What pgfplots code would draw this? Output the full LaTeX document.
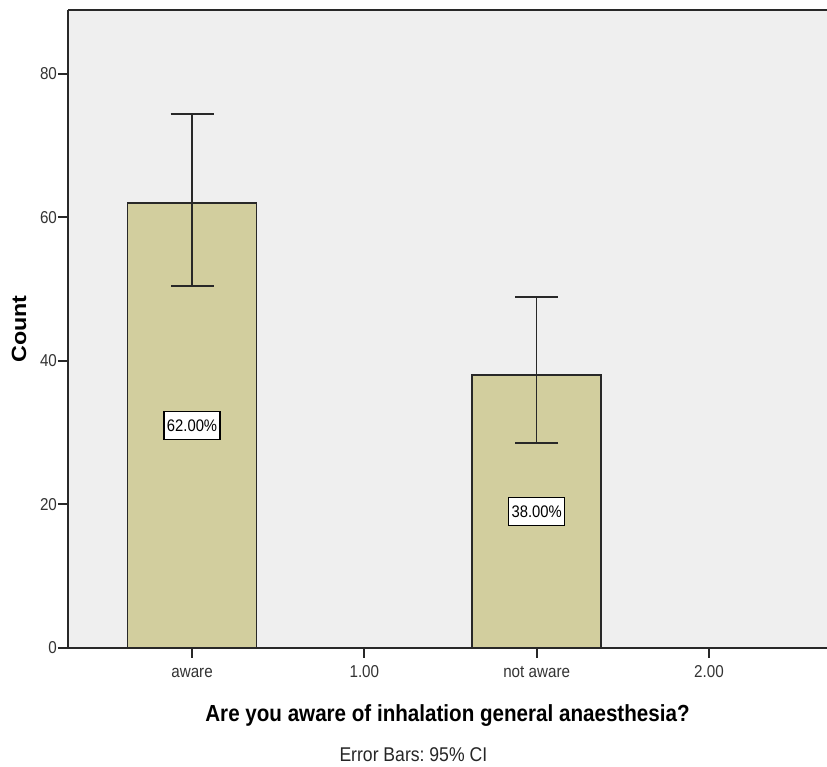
\documentclass[border=0pt]{standalone}
\usepackage{pgfplots}
\pgfplotsset{compat=1.18}
\usepackage{fontspec}
\setmainfont{Liberation Sans}
\usetikzlibrary{calc}
\definecolor{bg}{RGB}{239,239,239}
\definecolor{barfill}{RGB}{210,206,158}
\definecolor{lin}{RGB}{40,40,40}
\newcommand{\tall}[1]{\scalebox{1}[1.13]{#1}}
\begin{document}
\frenchspacing
\begin{tikzpicture}
\begin{axis}[
  name=ax,
  scale only axis, width=379.5pt, height=319pt,
  xmin=-0.72, xmax=3.685, ymin=0, ymax=88.9,
  axis lines=left,
  axis line style={-, line width=1pt, draw=lin},
  axis background/.style={fill=bg},
  xtick={0,1,2,3}, xticklabels={\tall{aware},\tall{1.00},\tall{not aware},\tall{2.00}},
  ytick={0,20,40,60,80},
  yticklabel={\tall{\pgfmathprintnumber{\tick}}},
  tick align=outside, major tick length=5pt,
  tick style={line width=1pt, draw=lin},
  ticklabel style={font=\fontsize{7.6}{8}\selectfont, text=black!80},
  yticklabel style={xshift=3pt},
  xticklabel style={anchor=base, yshift=-10pt},
  /pgf/number format/assume math mode=true,
  xlabel={\tall{Are you aware of inhalation general anaesthesia?}},
  xlabel style={at={(axis description cs:0.5,0)}, anchor=base, yshift=-37pt, font=\fontsize{10.3}{12}\selectfont\bfseries},
  ylabel={\scalebox{1.13}[1]{Count}},
  ylabel style={at={(axis description cs:-0.0645,0.5)}, anchor=center, font=\fontsize{10.3}{12}\selectfont\bfseries},
  clip=false,
]
\addplot[ybar, bar width=0.75, fill=barfill, draw=lin, line width=0.8pt,
  error bars/.cd, y dir=both, y explicit,
  error bar style={line width=0.8pt, draw=lin},
  error mark options={rotate=90, line width=0.8pt, mark size=10.75pt, draw=lin}]
  coordinates {
    (0,62) += (0,12.4) -= (0,11.55)
    (2,38) += (0,10.9) -= (0,9.45)
  };
\draw[line width=1pt, lin] (rel axis cs:0,1) -- (rel axis cs:1,1);
\node[draw=black, line width=0.6pt, fill=white, inner sep=1pt, minimum width=28pt, minimum height=14pt, font=\fontsize{7.4}{8}\selectfont] at (axis cs:0,31) {\tall{62.00\%}};
\node[draw=black, line width=0.6pt, fill=white, inner sep=1pt, minimum width=28pt, minimum height=14pt, font=\fontsize{7.4}{8}\selectfont] at (axis cs:2,19) {\tall{38.00\%}};
\node[anchor=base, font=\fontsize{8.8}{10}\selectfont, text=black!85] at ([yshift=-57pt]$(axis description cs:0.455,0)$) {\tall{Error Bars: 95\% CI}};
\end{axis}
\pgfresetboundingbox
\path[use as bounding box] ([xshift=-34pt,yshift=-59.5pt]ax.south west) rectangle ([yshift=5pt]ax.north east);
\end{tikzpicture}
\end{document}
